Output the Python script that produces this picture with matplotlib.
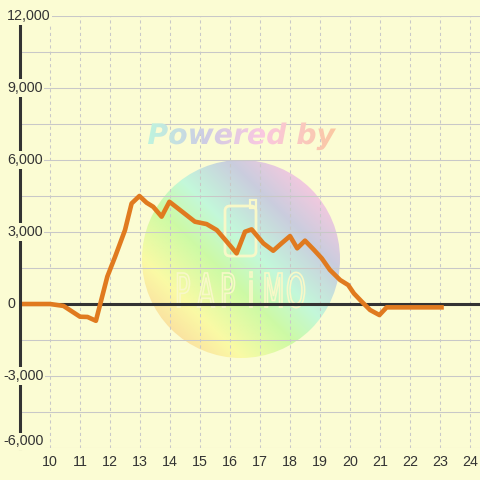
import numpy as np
import matplotlib
matplotlib.use('Agg')
import matplotlib.pyplot as plt
from matplotlib import transforms
from matplotlib.patches import Ellipse, PathPatch, FancyBboxPatch, Rectangle
from matplotlib.textpath import TextPath
from matplotlib.font_manager import FontProperties

# data
hours = [9.0, 10.0, 10.45, 11.0, 11.25, 11.53, 11.91, 12.17, 12.5, 12.72, 12.98,
         13.22, 13.44, 13.72, 13.98, 14.33, 14.83, 15.22, 15.56, 15.89, 16.22,
         16.5, 16.72, 17.11, 17.44, 17.72, 18.0, 18.24, 18.5, 18.78, 19.06,
         19.33, 19.67, 19.94, 20.13, 20.39, 20.67, 20.98, 21.22, 23.05]
values = [0, 0, -80, -530, -540, -700, 1140, 1970, 3080, 4190, 4500,
          4220, 4050, 3640, 4260, 3920, 3430, 3330, 3080, 2600, 2110,
          3010, 3110, 2530, 2220, 2530, 2830, 2320, 2640, 2280, 1900,
          1420, 1000, 790, 440, 100, -250, -460, -140, -140]
xticks = list(range(10, 25))
yticks = [-6000, -3000, 0, 3000, 6000, 9000, 12000]
ytick_labels = ['-6,000', '-3,000', '0', '3,000', '6,000', '9,000', '12,000']

bg = '#FBFCD3'
dark = '#333333'
grid_c = '#C8C8C8'
orange = '#E07A1F'

plt.rcParams['font.family'] = ['Liberation Sans', 'DejaVu Sans']

fig = plt.figure(figsize=(4.8, 4.8), dpi=100)
fig.patch.set_facecolor(bg)
ax = fig.add_axes([20/480, 32/480, 460/480, 432/480])
ax.set_facecolor(bg)
ax.set_xlim(9.0, 24.333)
ax.set_ylim(-6000, 12000)

# pixel (top-left origin) -> display
T_px = transforms.Affine2D().scale(1, -1).translate(0, 480).scale(1/100) + fig.dpi_scale_trans

def px2data(px, py):
    return 9.0 + (px - 20) / 30.0, (304 - py) / 0.024

# watermark circle with diagonal gradient
stops = [(0.0, (250, 195, 155)), (0.25, (250, 250, 165)), (0.42, (205, 250, 165)),
         (0.55, (195, 248, 218)), (0.72, (202, 205, 222)), (0.88, (250, 200, 222)),
         (1.0, (252, 200, 220))]
n = 200
u, v = np.meshgrid(np.linspace(0, 1, n), np.linspace(0, 1, n))
t = (u + v) / 2
img = np.zeros((n, n, 3))
sp = [s[0] for s in stops]
for c in range(3):
    img[..., c] = np.interp(t, sp, [s[1][c] / 255 for s in stops])
cx, cy, r = 241, 259, 99
x0, y0 = px2data(cx - r, cy + r)
x1, y1 = px2data(cx + r, cy - r)
im = ax.imshow(img, origin='lower', extent=[x0, x1, y0, y1], aspect='auto', zorder=0.5,
               interpolation='bilinear')
circ = Ellipse(px2data(cx, cy), 2 * r / 30, 2 * r / 0.024, transform=ax.transData)
im.set_clip_path(circ)

# "Powered by" gradient text
tp = TextPath((0, 0), 'Powered by', size=1,
              prop=FontProperties(family='DejaVu Sans', weight='bold', style='italic'))
ext = tp.get_extents()
s = 188 / ext.width
bx, by = px2data(148, 144)
tr = transforms.Affine2D().translate(-ext.x0, 0).scale(s / 30, s / 0.024).translate(bx, by) + ax.transData
tpatch = PathPatch(tp, transform=tr, fc='none', ec='none')
ax.add_patch(tpatch)
gstops = [(0.0, (190, 245, 222)), (0.3, (205, 205, 228)), (0.6, (250, 200, 225)),
          (1.0, (250, 200, 160))]
g = np.zeros((2, n, 3))
gx = np.linspace(0, 1, n)
for c in range(3):
    g[..., c] = np.interp(gx, [q[0] for q in gstops], [q[1][c] / 255 for q in gstops])
tx0, ty0 = px2data(146, 152)
tx1, ty1 = px2data(338, 118)
gim = ax.imshow(g, origin='lower', extent=[tx0, tx1, ty0, ty1], aspect='auto', zorder=2.2)
gim.set_clip_path(tpatch)

# logo inside circle
logo_c = '#F8F8C8'
ax.add_patch(FancyBboxPatch((225, 206), 31, 50, boxstyle='round,pad=0,rounding_size=5',
                            transform=T_px, fc='none', ec=logo_c, lw=2, zorder=1.5))
ax.add_patch(Rectangle((250, 200), 6, 8, transform=T_px, fc='none', ec=logo_c, lw=1.6, zorder=1.5))
lp = FontProperties(family='DejaVu Sans')
ref = TextPath((0, 0), 'M', size=1, prop=lp).get_extents()
sx, sy = 17 / ref.width, 34 / ref.height
for i, ch in enumerate('PAPiMO'):
    cp = TextPath((0, 0), ch, size=1, prop=lp)
    ce = cp.get_extents()
    off = 175 + i * 22.5 + (17 - ce.width * sx) / 2
    ctr = transforms.Affine2D().translate(-ce.x0, 0).scale(sx, -sy).translate(off, 307) + T_px
    ax.add_patch(PathPatch(cp, transform=ctr, fc='none', ec=logo_c, lw=1.2, zorder=1.5))

# grid
for yv in np.arange(-6000, 12001, 1500):
    ax.axhline(yv, color=grid_c, lw=0.75, zorder=1)
for xv in xticks:
    ax.axvline(xv, color=grid_c, lw=0.75, ls=(0, (3, 3)), zorder=1)

ax.axhline(0, color=dark, lw=2.2, zorder=2.5)
ax.plot(hours, values, color=orange, lw=3.3, zorder=3, solid_joinstyle='round')

for sname in ['top', 'right', 'bottom']:
    ax.spines[sname].set_visible(False)
ax.spines['left'].set_color(dark)
ax.spines['left'].set_linewidth(2.2)
ax.spines['left'].set_zorder(3.5)

ax.set_xticks(xticks)
ax.set_xticklabels([str(x) for x in xticks])
ax.tick_params(axis='x', length=0, pad=5, labelsize=10.3, labelcolor=dark)
ax.set_yticks([])

lab_tr = transforms.blended_transform_factory(ax.transAxes, ax.transData)
for yv, lab in zip(yticks, ytick_labels):
    xp = 3 if yv < 0 else 7
    yy = yv + 280 if yv == -6000 else yv
    ax.text((xp - 20) / 460, yy, lab, transform=lab_tr, ha='left', va='center',
            fontsize=10.3, color=dark, clip_on=False, zorder=5,
            bbox=dict(fc=bg, ec='none', pad=1.2))

fig.savefig('out.png', dpi=100, facecolor=bg)
